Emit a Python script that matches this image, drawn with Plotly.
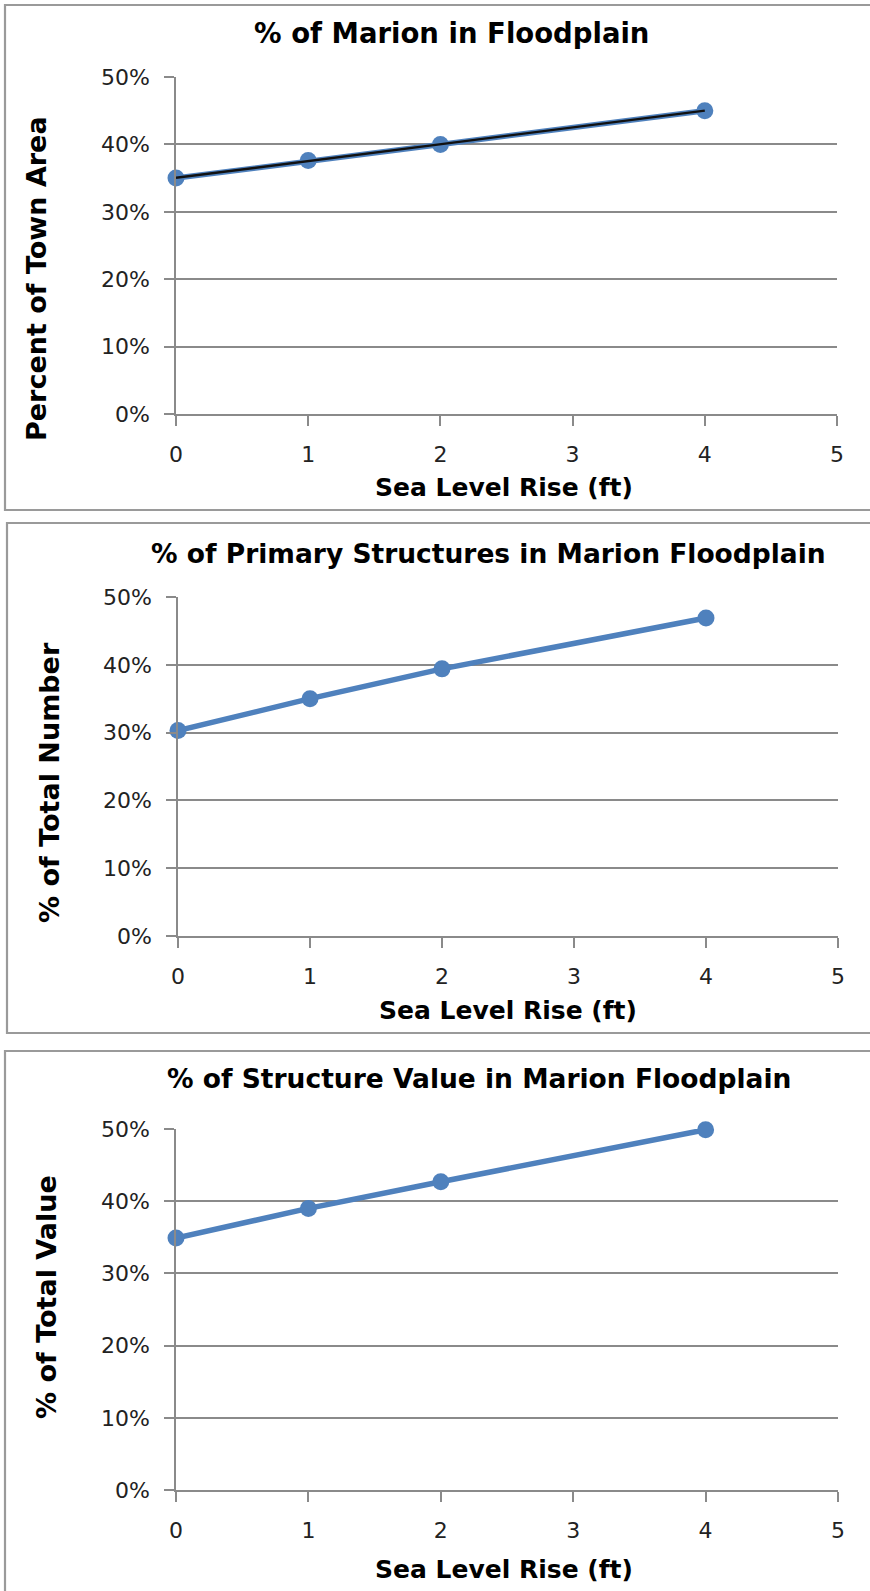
import numpy as np
import plotly.graph_objects as go

W, H = 870, 1591

slr_ft = [0, 1, 2, 4]
pct_town_area = [0.350, 0.376, 0.400, 0.450]
pct_structures_number = [0.303, 0.350, 0.394, 0.469]
pct_structure_value = [0.349, 0.390, 0.427, 0.499]

titles = ["% of Marion in Floodplain",
          "% of Primary Structures in Marion Floodplain",
          "% of Structure Value in Marion Floodplain"]
y_titles = ["Percent of Town Area", "% of Total Number", "% of Total Value"]
x_title = "Sea Level Rise (ft)"
x_ticks = [0, 1, 2, 3, 4, 5]
y_ticks = [0, 0.1, 0.2, 0.3, 0.4, 0.5]

BLUE = "#4F81BD"
GRID = "#8A8A8A"
FONT = "DejaVu Sans"

# pixel layout for each panel
panels = [
    dict(x0=176, x1=837, ytop=77, ybot=414, title=(451, 33), xt=(504, 487), yt=(36, 279),
         box=(5, 5, 872, 510), tsize=27.5),
    dict(x0=178, x1=838, ytop=597, ybot=936, title=(488, 553), xt=(508, 1010), yt=(49, 783),
         box=(7, 523, 872, 1033), tsize=26.5),
    dict(x0=176, x1=838, ytop=1129, ybot=1490, title=(479, 1078), xt=(504, 1569), yt=(46, 1297),
         box=(5, 1051, 872, 1596), tsize=26.5),
]
series = [pct_town_area, pct_structures_number, pct_structure_value]

fig = go.Figure()
px = lambda v: v / W
py = lambda v: 1 - v / H

shapes, annotations = [], []
for i, (p, ys) in enumerate(zip(panels, series)):
    n = "" if i == 0 else str(i + 1)
    xa, ya = "x" + n, "y" + n
    fig.add_trace(go.Scatter(x=slr_ft, y=ys, mode="lines+markers", xaxis=xa, yaxis=ya,
                             line=dict(color=BLUE, width=5.5),
                             marker=dict(color=BLUE, size=17), cliponaxis=False,
                             showlegend=False))
    if i == 0:
        k, b = np.polyfit(slr_ft, ys, 1)
        xs = [slr_ft[0], slr_ft[-1]]
        fig.add_trace(go.Scatter(x=xs, y=[k * v + b for v in xs], mode="lines", xaxis=xa, yaxis=ya,
                                 line=dict(color="#111111", width=2.4), cliponaxis=False,
                                 showlegend=False))
    axis_common = dict(showline=True, linecolor=GRID, linewidth=1.5, ticks="outside",
                       ticklen=10, tickcolor=GRID, tickwidth=1.5, automargin=False,
                       tickfont=dict(family=FONT, size=22, color="#222222"), zeroline=False)
    fig.layout["xaxis" + n] = dict(domain=[px(p["x0"]), px(p["x1"])], range=[0, 5],
                                   tickvals=x_ticks, showgrid=False, anchor=ya,
                                   ticklabelstandoff=10, **axis_common)
    fig.layout["yaxis" + n] = dict(domain=[py(p["ybot"]), py(p["ytop"])], range=[0, 0.5],
                                   tickvals=y_ticks, tickformat=".0%", showgrid=True,
                                   gridcolor=GRID, gridwidth=1.5, anchor=xa,
                                   ticklabelstandoff=10, **axis_common)
    bx0, by0, bx1, by1 = p["box"]
    shapes.append(dict(type="rect", xref="paper", yref="paper", x0=px(bx0), x1=px(bx1),
                       y0=py(by1), y1=py(by0), line=dict(color="#9A9A9A", width=2.2)))
    annotations.append(dict(text="<b>%s</b>" % titles[i], x=px(p["title"][0]), y=py(p["title"][1]),
                            xref="paper", yref="paper", showarrow=False, xanchor="center",
                            yanchor="middle", font=dict(family=FONT, size=p["tsize"], color="#000000")))
    annotations.append(dict(text="<b>%s</b>" % x_title, x=px(p["xt"][0]), y=py(p["xt"][1]),
                            xref="paper", yref="paper", showarrow=False, xanchor="center",
                            yanchor="middle", font=dict(family=FONT, size=25, color="#000000")))
    annotations.append(dict(text="<b>%s</b>" % y_titles[i], x=px(p["yt"][0]), y=py(p["yt"][1]),
                            xref="paper", yref="paper", showarrow=False, xanchor="center",
                            yanchor="middle", textangle=-90,
                            font=dict(family=FONT, size=27, color="#000000")))

fig.update_layout(width=W, height=H, margin=dict(l=0, r=0, t=0, b=0, autoexpand=False),
                  paper_bgcolor="white", plot_bgcolor="white",
                  shapes=shapes, annotations=annotations, showlegend=False)
fig.write_html("out.html", config={"displayModeBar": False},
               post_script="document.body.style.margin='0';document.body.style.overflow='hidden';")
